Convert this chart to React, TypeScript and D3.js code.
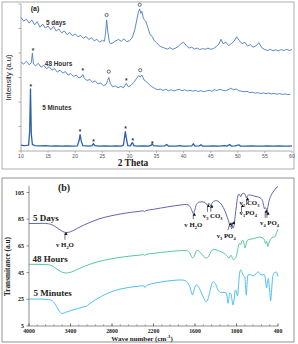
import React from "react";
import * as d3 from "d3";

type Pt = [number, number];

// ---- (a) XRD, intensity in arbitrary units (axis 0..6)
const xrdDays: Pt[] = [
  [10.0, 5.45], [10.5, 5.3], [11.0, 5.38], [11.5, 5.22], [12.0, 5.35], [12.5, 5.15], [13.0, 5.28],
  [13.5, 5.05], [14.0, 5.18], [14.5, 5.02], [15.0, 5.1], [15.5, 4.95], [16.0, 5.08], [16.5, 4.9],
  [17.0, 4.98], [17.5, 4.82], [18.0, 4.9], [18.5, 4.75], [19.0, 4.84], [19.5, 4.7], [20.0, 4.78],
  [20.5, 4.66], [21.0, 4.72], [21.5, 4.6], [22.0, 4.68], [22.5, 4.55], [23.0, 4.62], [23.5, 4.5],
  [24.0, 4.56], [24.5, 4.44], [25.0, 4.52], [25.4, 4.48], [25.6, 4.8], [25.8, 5.35], [26.0, 4.9],
  [26.3, 4.45], [26.5, 4.38], [27.0, 4.42], [27.5, 4.5], [28.0, 4.55], [28.5, 4.48], [29.0, 4.58],
  [29.5, 4.46], [30.0, 4.5], [30.5, 4.62], [31.0, 4.95], [31.4, 5.4], [31.7, 5.7], [31.9, 5.8],
  [32.1, 5.62], [32.3, 5.7], [32.6, 5.4], [33.0, 5.3], [33.4, 5.05], [33.8, 4.75], [34.2, 4.68],
  [34.6, 4.5], [35.0, 4.42], [35.5, 4.3], [36.0, 4.24], [36.5, 4.2], [37.0, 4.16], [37.5, 4.22],
  [38.0, 4.15], [38.5, 4.2], [39.0, 4.26], [39.5, 4.38], [40.0, 4.44], [40.5, 4.3], [41.0, 4.2],
  [41.5, 4.24], [42.0, 4.16], [42.5, 4.2], [43.0, 4.14], [43.5, 4.18], [44.0, 4.15], [44.5, 4.2],
  [45.0, 4.15], [45.5, 4.18], [46.0, 4.26], [46.5, 4.36], [46.9, 4.56], [47.3, 4.38], [47.8, 4.44],
  [48.3, 4.3], [48.8, 4.38], [49.3, 4.48], [49.8, 4.66], [50.3, 4.5], [50.8, 4.38], [51.3, 4.44],
  [51.8, 4.28], [52.3, 4.34], [52.8, 4.24], [53.3, 4.28], [53.9, 4.42], [54.4, 4.22], [55.0, 4.14],
  [55.5, 4.1], [56.0, 4.15], [56.5, 4.09], [57.0, 4.13], [57.5, 4.09], [58.0, 4.14], [58.5, 4.1],
  [59.0, 4.15], [59.5, 4.1], [60.0, 4.14],
];
const xrdHours: Pt[] = [
  [10.0, 3.62], [10.5, 3.55], [11.0, 3.66], [11.5, 3.52], [11.9, 3.6], [12.1, 4.0], [12.3, 3.55],
  [12.7, 3.48], [13.2, 3.58], [13.7, 3.42], [14.2, 3.5], [14.7, 3.36], [15.2, 3.44], [15.7, 3.3],
  [16.2, 3.36], [16.7, 3.22], [17.2, 3.3], [17.7, 3.18], [18.2, 3.24], [18.7, 3.1], [19.2, 3.16],
  [19.7, 3.04], [20.2, 3.1], [20.7, 2.98], [21.1, 3.02], [21.4, 3.12], [21.7, 2.96], [22.2, 2.88],
  [22.7, 2.92], [23.2, 2.8], [23.7, 2.86], [24.2, 2.74], [24.7, 2.78], [25.2, 2.66], [25.7, 2.72],
  [26.0, 2.88], [26.2, 3.0], [26.5, 2.75], [26.9, 2.62], [27.4, 2.66], [27.9, 2.58], [28.4, 2.64],
  [28.9, 2.58], [29.4, 2.76], [29.8, 2.62], [30.3, 2.68], [30.8, 2.8], [31.3, 2.95], [31.7, 3.08],
  [32.0, 3.02], [32.3, 3.1], [32.7, 2.9], [33.2, 2.82], [33.7, 2.7], [34.2, 2.62], [34.7, 2.55],
  [35.2, 2.5], [35.7, 2.53], [36.2, 2.47], [36.7, 2.52], [37.2, 2.46], [37.7, 2.5], [38.2, 2.45],
  [38.7, 2.49], [39.2, 2.52], [39.7, 2.46], [40.2, 2.5], [40.7, 2.45], [41.2, 2.48], [41.7, 2.44],
  [42.2, 2.47], [42.7, 2.43], [43.2, 2.46], [43.7, 2.42], [44.2, 2.45], [44.7, 2.48], [45.2, 2.44],
  [45.7, 2.5], [46.2, 2.47], [46.7, 2.52], [47.2, 2.48], [47.7, 2.46], [48.2, 2.5], [48.7, 2.56],
  [49.2, 2.5], [49.7, 2.53], [50.2, 2.46], [50.7, 2.44], [51.2, 2.42], [51.7, 2.44], [52.2, 2.38],
  [52.7, 2.4], [53.2, 2.36], [53.7, 2.38], [54.2, 2.35], [54.7, 2.37], [55.2, 2.34], [55.7, 2.36],
  [56.2, 2.33], [56.7, 2.35], [57.2, 2.32], [57.7, 2.34], [58.2, 2.31], [58.7, 2.33], [59.2, 2.3],
  [59.7, 2.32],
];
const xrdMinutes: Pt[] = [
  [10.0, 0.24], [10.5, 0.22], [11.0, 0.23], [11.4, 0.24], [11.6, 0.8], [11.75, 2.55], [11.9, 0.7],
  [12.1, 0.26], [12.6, 0.22], [13.5, 0.21], [14.5, 0.22], [15.5, 0.2], [16.5, 0.21], [17.5, 0.2],
  [18.5, 0.21], [19.5, 0.2], [20.4, 0.21], [20.75, 0.45], [20.9, 0.68], [21.1, 0.42], [21.4, 0.22],
  [22.5, 0.2], [23.1, 0.22], [23.35, 0.3], [23.6, 0.22], [24.5, 0.2], [25.5, 0.21], [26.5, 0.2],
  [27.5, 0.21], [28.5, 0.2], [28.9, 0.24], [29.1, 0.55], [29.25, 0.8], [29.45, 0.5], [29.7, 0.22],
  [30.2, 0.21], [30.45, 0.32], [30.6, 0.33], [30.8, 0.22], [31.5, 0.2], [32.5, 0.21], [33.5, 0.2],
  [34.0, 0.23], [34.2, 0.29], [34.45, 0.22], [35.5, 0.2], [36.5, 0.21], [36.9, 0.26], [37.2, 0.2],
  [38.5, 0.2], [39.4, 0.22], [39.7, 0.2], [40.5, 0.2], [41.5, 0.21], [41.8, 0.29], [42.1, 0.2],
  [42.9, 0.21], [43.2, 0.25], [43.5, 0.2], [44.5, 0.2], [45.5, 0.21], [46.5, 0.2], [47.5, 0.22],
  [48.0, 0.2], [48.5, 0.26], [48.8, 0.2], [49.5, 0.21], [50.2, 0.25], [50.5, 0.2], [51.5, 0.2],
  [52.5, 0.21], [53.5, 0.2], [54.5, 0.2], [55.5, 0.21], [56.5, 0.2], [57.5, 0.21], [58.5, 0.2],
  [59.5, 0.2], [60.0, 0.21],
];
const thetaTicks = [10, 15, 20, 25, 30, 35, 40, 45, 50, 55, 60];
const intensityTicks = [0, 1, 2, 3, 4, 5, 6];
// phase marks: "o" and "*"
const xrdMarks: { t: number; i: number; s: string }[] = [
  { t: 25.8, i: 5.55, s: "o" }, { t: 31.9, i: 5.97, s: "o" },
  { t: 12.2, i: 4.12, s: "*" }, { t: 21.4, i: 3.27, s: "*" }, { t: 26.2, i: 3.24, s: "o" },
  { t: 29.4, i: 2.9, s: "*" }, { t: 32.0, i: 3.3, s: "o" },
  { t: 11.8, i: 2.65, s: "*" }, { t: 20.9, i: 0.8, s: "*" }, { t: 23.4, i: 0.38, s: "*" },
  { t: 29.3, i: 0.92, s: "*" }, { t: 30.6, i: 0.42, s: "*" }, { t: 34.2, i: 0.33, s: "*" },
];
const xrdSeriesLabels = [
  { text: "5 days", t: 14.6, i: 5.16 },
  { text: "48 Hours", t: 14.4, i: 3.45 },
  { text: "5 Minutes", t: 13.9, i: 1.69 },
];

// ---- (b) FTIR, transmittance vs wave number
const ftirDays: Pt[] = [
  [4000, 81.8], [3900, 81.8], [3800, 81.9], [3720, 81.6], [3650, 80.4], [3580, 78.0], [3520, 76.0],
  [3460, 75.0], [3400, 75.6], [3300, 78.2], [3200, 80.8], [3100, 83.0], [3000, 85.0], [2900, 86.5],
  [2800, 87.7], [2700, 88.7], [2600, 89.6], [2500, 90.3], [2400, 90.9], [2350, 91.3], [2330, 90.6],
  [2310, 91.4], [2200, 92.4], [2100, 93.3], [2000, 94.2], [1900, 95.0], [1800, 95.7], [1720, 96.0],
  [1680, 95.0], [1650, 92.2], [1625, 89.2], [1605, 91.5], [1580, 96.0], [1540, 97.8], [1500, 98.0],
  [1460, 97.6], [1435, 96.4], [1420, 95.2], [1405, 96.8], [1385, 96.2], [1372, 95.0], [1355, 97.0],
  [1320, 98.6], [1290, 98.9], [1250, 97.8], [1210, 95.5], [1170, 91.5], [1130, 86.0], [1100, 81.0],
  [1088, 79.2], [1070, 80.6], [1050, 78.2], [1035, 80.5], [1020, 87.0], [1000, 95.5], [985, 101.5],
  [965, 103.8], [950, 102.8], [940, 101.8], [925, 103.6], [900, 104.4], [875, 103.6], [855, 100.8],
  [840, 102.6], [815, 103.2], [760, 102.6], [700, 101.8], [660, 101.0], [630, 99.5], [612, 96.5],
  [595, 92.8], [585, 93.6], [572, 93.0], [558, 90.6], [545, 94.8], [525, 99.5], [500, 102.8],
  [470, 105.4], [440, 107.6], [410, 109.3], [400, 109.8],
];
const ftirHours: Pt[] = [
  [4000, 51.2], [3900, 51.2], [3800, 51.1], [3720, 50.9], [3650, 49.6], [3580, 47.0], [3520, 45.3],
  [3460, 44.7], [3400, 45.2], [3300, 47.4], [3200, 49.7], [3100, 51.6], [3000, 53.2], [2900, 54.4],
  [2800, 55.4], [2700, 56.3], [2600, 57.0], [2500, 57.6], [2400, 58.1], [2350, 58.5], [2330, 57.9],
  [2310, 58.6], [2200, 59.4], [2100, 60.0], [2000, 60.6], [1900, 61.1], [1800, 61.5], [1720, 61.4],
  [1680, 60.0], [1655, 57.5], [1633, 55.9], [1610, 57.4], [1575, 61.6], [1545, 61.2], [1503, 58.8],
  [1460, 56.4], [1431, 55.9], [1400, 57.4], [1365, 61.0], [1335, 62.4], [1290, 62.0], [1250, 61.2],
  [1214, 60.4], [1175, 59.2], [1142, 58.0], [1118, 56.2], [1104, 55.9], [1090, 57.6], [1075, 57.8],
  [1060, 55.6], [1046, 54.7], [1025, 55.4], [1005, 56.8], [985, 61.5], [960, 66.7], [940, 66.0],
  [925, 68.6], [905, 69.2], [888, 66.0], [877, 63.5], [865, 65.5], [844, 69.2], [800, 70.0],
  [757, 70.4], [700, 71.2], [660, 71.7], [630, 71.0], [600, 69.8], [578, 66.6], [565, 68.4],
  [545, 64.6], [530, 67.2], [500, 70.6], [470, 71.6], [443, 71.9], [420, 75.0], [400, 77.4],
];
const ftirMinutes: Pt[] = [
  [4000, 25.2], [3900, 25.2], [3800, 25.1], [3720, 24.9], [3660, 23.8], [3600, 19.5], [3560, 16.0],
  [3530, 14.4], [3500, 14.6], [3450, 15.6], [3380, 16.8], [3300, 18.0], [3220, 19.2], [3170, 19.8],
  [3130, 21.4], [3060, 24.0], [3000, 25.8], [2900, 28.6], [2800, 30.8], [2700, 32.4], [2600, 33.5],
  [2500, 34.3], [2400, 34.9], [2350, 35.3], [2325, 33.8], [2300, 35.3], [2200, 36.9], [2100, 37.9],
  [2000, 38.7], [1900, 39.2], [1800, 39.5], [1740, 39.0], [1701, 37.0], [1670, 33.5], [1650, 29.8],
  [1639, 28.2], [1620, 30.5], [1595, 35.0], [1575, 35.8], [1545, 34.0], [1505, 29.5], [1470, 25.5],
  [1445, 23.3], [1425, 23.8], [1395, 28.5], [1365, 35.0], [1340, 38.2], [1305, 36.8], [1268, 32.0],
  [1220, 30.0], [1180, 30.2], [1147, 29.7], [1132, 25.5], [1123, 22.0], [1112, 25.0], [1098, 29.7],
  [1080, 29.0], [1065, 24.5], [1051, 20.7], [1035, 24.5], [1017, 32.0], [1000, 30.5], [985, 27.5],
  [970, 36.0], [955, 44.5], [939, 47.0], [920, 45.0], [900, 43.0], [881, 42.0], [868, 34.0],
  [858, 28.2], [848, 36.0], [834, 43.2], [800, 43.5], [760, 42.5], [737, 43.2], [700, 45.2],
  [689, 45.7], [660, 44.0], [630, 43.2], [600, 43.6], [585, 41.0], [570, 35.0], [563, 33.5],
  [552, 38.0], [540, 40.5], [525, 34.0], [506, 24.0], [495, 30.0], [480, 40.0], [460, 44.5],
  [425, 45.4], [410, 44.0], [400, 42.0],
];
const waveTicks = [4000, 3400, 2800, 2200, 1600, 1000, 400];
const transTicks = [5, 25, 45, 65, 85, 105];
const ftirSeriesLabels = [
  { text: "5 Days", w: 3942, v: 83.7 },
  { text: "48 Hours", w: 3950, v: 52.6 },
  { text: "5 Minutes", w: 3935, v: 27.8 },
];
// band labels: "_" = subscript next char
const ftirBands: { text: string; w: number; v: number; anchor: string; arrows: [number, number, number, number][] }[] = [
  { text: "v H_2O", w: 3480, v: 64.2, anchor: "middle", arrows: [[3480, 69.6, 3480, 74.4]] },
  { text: "v H_2O", w: 1625, v: 79.4, anchor: "middle", arrows: [[1625, 85.0, 1625, 88.7]] },
  { text: "v_3 CO_3", w: 1345, v: 85.6, anchor: "middle", arrows: [[1420, 90.6, 1420, 95.0], [1372, 90.6, 1372, 94.8]] },
  { text: "v_3 PO_4", w: 1150, v: 71.0, anchor: "middle", arrows: [[1125, 76.8, 1095, 81.8], [1075, 77.6, 1052, 82.6]] },
  { text: "v_1PO_4", w: 955, v: 88.2, anchor: "start", arrows: [[928, 90.2, 928, 95.0]] },
  { text: "v_2 CO_3", w: 955, v: 95.6, anchor: "start", arrows: [[855, 95.6, 855, 100.2]] },
  { text: "v_4 PO_4", w: 660, v: 80.4, anchor: "start", arrows: [[585, 86.0, 585, 91.0], [560, 86.0, 560, 89.6]] },
];

const SANS = "'Liberation Sans', Arial, sans-serif";
const SERIF = "'Liberation Serif', 'Times New Roman', serif";

function rich(s: string, fs: number) {
  const out: React.ReactNode[] = [];
  const re = /_(.)|([^_]+)/g;
  let m: RegExpExecArray | null;
  let shift = 0;
  let k = 0;
  while ((m = re.exec(s))) {
    if (m[2]) {
      out.push(<tspan key={k++} dy={-shift} fontSize={fs}>{m[2]}</tspan>);
      shift = 0;
    } else {
      const d = fs * 0.3;
      out.push(<tspan key={k++} dy={d - shift} fontSize={fs * 0.65}>{m[1]}</tspan>);
      shift = d;
    }
  }
  return out;
}

export default function App() {
  // panel (a)
  const xa = d3.scaleLinear().domain([10, 60]).range([21, 292]);
  const ya = d3.scaleLinear().domain([0, 6]).range([151, 4]);
  const lineA = d3.line<Pt>().x((d) => xa(d[0])).y((d) => ya(d[1]));
  // panel (b)
  const xb = d3.scaleLinear().domain([4000, 400]).range([29, 278]);
  const yb = d3.scaleLinear().domain([5, 105]).range([326, 192.5]);
  const lineB = d3.line<Pt>().x((d) => xb(d[0])).y((d) => yb(d[1])).curve(d3.curveMonotoneX);
  const minor = d3.range(4000, 399, -120);

  return (
    <svg width={298} height={344} style={{ position: "absolute", left: 0, top: 0, background: "#fff" }}>
      <defs>
        <marker id="ah" viewBox="0 0 6 6" refX="3" refY="1" markerWidth="3.2" markerHeight="3.2"
          markerUnits="userSpaceOnUse" orient="auto-start-reverse">
          <path d="M0,6 L3,0 L6,6 Z" fill="#111" transform="rotate(90 3 3)" />
        </marker>
      </defs>

      {/* ---------- (a) XRD ---------- */}
      <rect x={2} y={2} width={292} height={167} fill="none" stroke="#9b9b9b" strokeWidth={0.8} />
      <line x1={xa(10)} x2={xa(10)} y1={ya(6)} y2={ya(0)} stroke="#8a8a8a" strokeWidth={0.7} />
      <line x1={xa(10)} x2={xa(60)} y1={ya(0)} y2={ya(0)} stroke="#8a8a8a" strokeWidth={0.7} />
      {intensityTicks.map((t) => (
        <line key={t} x1={xa(10) - 2.5} x2={xa(10)} y1={ya(t)} y2={ya(t)} stroke="#8a8a8a" strokeWidth={0.7} />
      ))}
      {thetaTicks.map((t) => (
        <g key={t}>
          <line x1={xa(t)} x2={xa(t)} y1={ya(0)} y2={ya(0) + 2} stroke="#8a8a8a" strokeWidth={0.6} />
          <text x={xa(t)} y={ya(0) + 6.5} fontSize={5.2} fontFamily={SANS} fill="#555" textAnchor="middle">{t}</text>
        </g>
      ))}
      <path d={lineA(xrdDays) || ""} fill="none" stroke="#4a7cc0" strokeWidth={0.9} />
      <path d={lineA(xrdHours) || ""} fill="none" stroke="#4a7cc0" strokeWidth={0.9} />
      <path d={lineA(xrdMinutes) || ""} fill="none" stroke="#2b62a8" strokeWidth={1.3} />
      {xrdMarks.map((m, i) =>
        m.s === "o" ? (
          <circle key={i} cx={xa(m.t)} cy={ya(m.i)} r={1.6} fill="none" stroke="#333" strokeWidth={0.7} />
        ) : (
          <text key={i} x={xa(m.t)} y={ya(m.i) + 2.6} fontSize={6.5} fontFamily={SANS} fontWeight="bold"
            fill="#333" textAnchor="middle">*</text>
        )
      )}
      {xrdSeriesLabels.map((l) => (
        <text key={l.text} x={xa(l.t)} y={ya(l.i)} fontSize={6.4} fontFamily={SANS} fontWeight="bold" fill="#333">
          {l.text}
        </text>
      ))}
      <text x={xa(11.8)} y={ya(5.73)} fontSize={7} fontFamily={SANS} fontWeight="bold" fill="#222">(a)</text>
      <text x={133} y={166} fontSize={9.5} fontFamily={SERIF} fontWeight="bold" fill="#222" textAnchor="middle">2 Theta</text>
      <text transform={`translate(10.5,${ya(3)}) rotate(-90)`} fontSize={7.6} fontFamily={SANS} fill="#222"
        textAnchor="middle">Intensity (a.u)</text>

      {/* ---------- (b) FTIR ---------- */}
      <rect x={2} y={178} width={292} height={164} fill="none" stroke="#777" strokeWidth={0.8} />
      <line x1={xb(4000)} x2={xb(4000)} y1={yb(5)} y2={yb(110)} stroke="#444" strokeWidth={0.6} />
      <line x1={xb(4000)} x2={xb(400)} y1={yb(5)} y2={yb(5)} stroke="#444" strokeWidth={0.6} />
      {transTicks.map((t) => (
        <g key={t}>
          <line x1={xb(4000) - 2.5} x2={xb(4000)} y1={yb(t)} y2={yb(t)} stroke="#444" strokeWidth={0.6} />
          <text x={xb(4000) - 5} y={yb(t) + 2} fontSize={6} fontFamily={SERIF} fontWeight="bold" fill="#222"
            textAnchor="end">{t}</text>
        </g>
      ))}
      {minor.map((w) => (
        <line key={w} x1={xb(w)} x2={xb(w)} y1={yb(5)} y2={yb(5) - 1.6} stroke="#444" strokeWidth={0.5} />
      ))}
      {waveTicks.map((w) => (
        <g key={w}>
          <line x1={xb(w)} x2={xb(w)} y1={yb(5)} y2={yb(5) - 2.8} stroke="#444" strokeWidth={0.6} />
          <text x={xb(w)} y={yb(5) + 7.2} fontSize={5.8} fontFamily={SERIF} fontWeight="bold" fill="#222"
            textAnchor="middle">{w}</text>
        </g>
      ))}
      <path d={lineB(ftirDays) || ""} fill="none" stroke="#4d57a3" strokeWidth={0.9} />
      <path d={lineB(ftirHours) || ""} fill="none" stroke="#3fc296" strokeWidth={0.9} />
      <path d={lineB(ftirMinutes) || ""} fill="none" stroke="#3bb9e8" strokeWidth={0.9} />
      {ftirSeriesLabels.map((l) => (
        <text key={l.text} x={xb(l.w)} y={yb(l.v)} fontSize={9} fontFamily={SERIF} fontWeight="bold" fill="#222">
          {l.text}
        </text>
      ))}
      {ftirBands.map((b, i) => (
        <g key={i}>
          <text x={xb(b.w)} y={yb(b.v)} fontFamily={SERIF} fontWeight="bold" fill="#111"
            textAnchor={b.anchor as any} fontSize={6.8}>{rich(b.text, 6.8)}</text>
          {b.arrows.map((a, j) => (
            <line key={j} x1={xb(a[0])} y1={yb(a[1])} x2={xb(a[2])} y2={yb(a[3])} stroke="#111"
              strokeWidth={0.6} markerEnd="url(#ah)" />
          ))}
        </g>
      ))}
      <text x={xb(3581)} y={yb(106.1)} fontSize={10} fontFamily={SERIF} fontWeight="bold" fill="#222">(b)</text>
      <text x={142} y={340.5} fontSize={7} fontFamily={SERIF} fontWeight="bold" fill="#222" textAnchor="middle">
        Wave number (cm<tspan dy={-2.5} fontSize={4.8}>-1</tspan><tspan dy={2.5}>)</tspan>
      </text>
      <text transform={`translate(9.5,${yb(45) - 6}) rotate(-90)`} fontSize={7.3} fontFamily={SERIF}
        fontWeight="bold" fill="#222" textAnchor="middle">Transmitance (a.u)</text>
    </svg>
  );
}
